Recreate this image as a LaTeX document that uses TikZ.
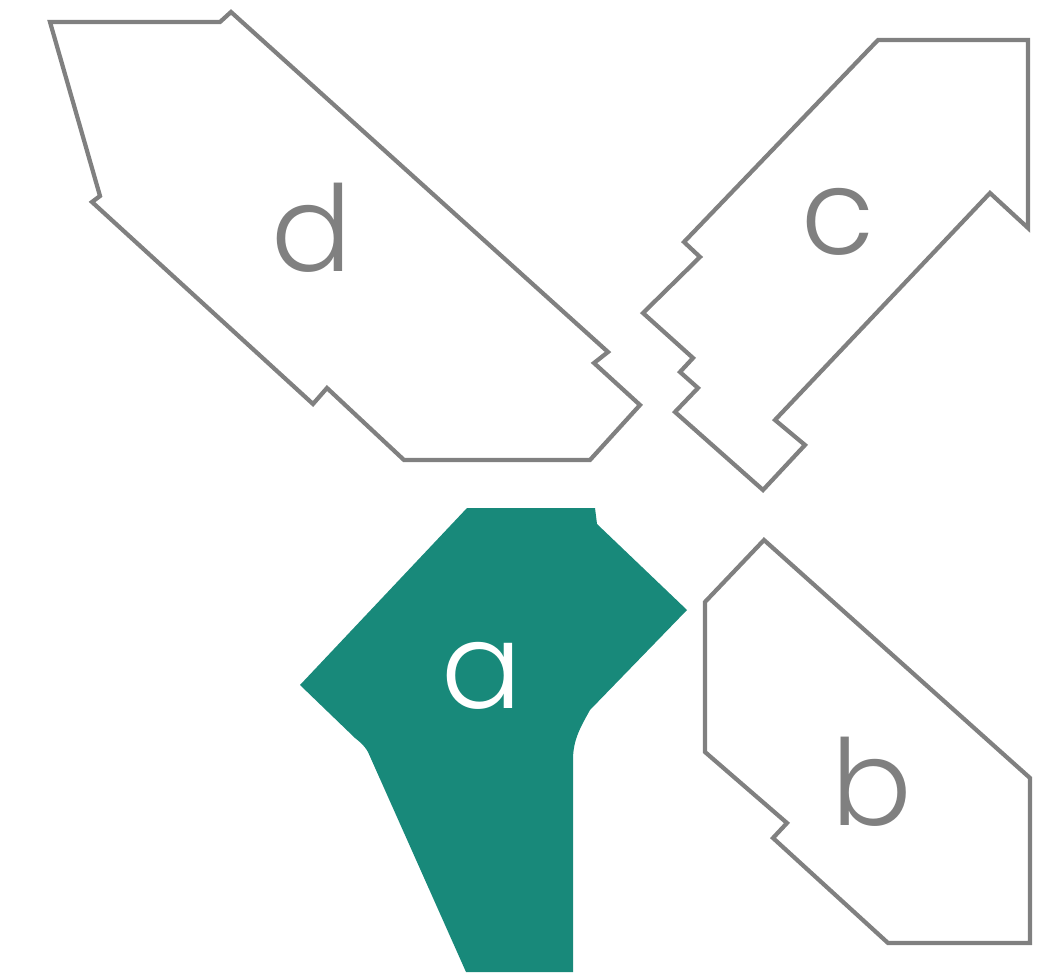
\documentclass[tikz,border=0pt]{standalone}
\usepackage{fontspec}
\setmainfont{Poppins}[UprightFont={* Light}]
\usepackage{xcolor}
\usepackage{tikz}
\usetikzlibrary{positioning}
\definecolor{piecegray}{RGB}{128,128,128}
\definecolor{pieceteal}{RGB}{24,137,122}
\tikzset{
  piece/.style={draw=piecegray, line width=2.4pt, line join=miter, fill=white},
  solid piece/.style={fill=pieceteal, draw=none},
  tag/.style={font=\fontsize{68}{68}\selectfont, text=piecegray, inner sep=0pt},
}

\begin{document}
\begin{tikzpicture}[x=0.02cm, y=-0.02cm]
    \useasboundingbox (0,0) rectangle (1056,977);
    % piece d
    \draw[piece] (50,22) -- (220,22) -- (231,12) -- (608,352) -- (594,363) -- (640,405)
      -- (590,460) -- (404,460) -- (327,388) -- (313,404) -- (92,202) -- (100,196) -- cycle;
    % piece c
    \draw[piece] (878,40) -- (1028,40) -- (1028,228) -- (990,193) -- (775,420) -- (805,445)
      -- (763,490) -- (675,412) -- (698,388) -- (680,372) -- (693,358) -- (643,313)
      -- (700,257) -- (684,242) -- cycle;
    % piece b
    \draw[piece] (764,540) -- (1030,778) -- (1030,943) -- (888,943) -- (773,838) -- (787,823)
      -- (705,752) -- (705,602) -- cycle;
    % piece a
    \fill[solid piece] (467,508) -- (595,508) -- (597,524) -- (687,610) -- (590,710)
      .. controls (580,728) and (573,740) .. (573,760) -- (573,972) -- (466,972) -- (368,752)
      .. controls (364,745) and (360,742) .. (355,738) -- (300,685) -- cycle;
    \node[tag] (d) at (312,228) {d};
    \node[tag] (c) at (838,222) {c};
    \node[tag] (b) at (872,782) {b};
    \node[tag, text=white] (a) at (482,676) {a};
  \end{tikzpicture}
\end{document}
